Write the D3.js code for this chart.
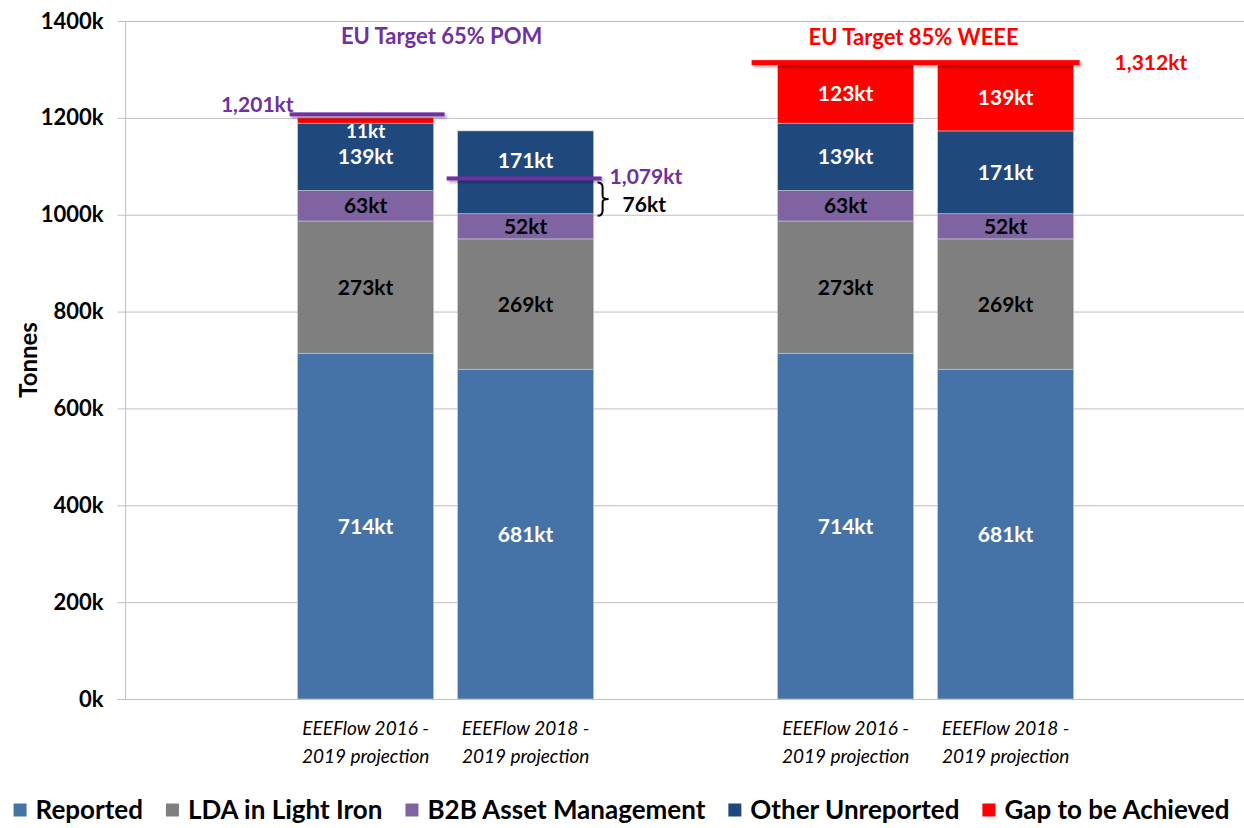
<!DOCTYPE html>
<html>
<head>
<meta charset="utf-8">
<script src="https://cdn.jsdelivr.net/npm/d3@7"></script>
<style>
  body { margin: 0; background: #fff; }
  svg { display: block; font-family: Lato, "Open Sans", sans-serif; }
</style>
</head>
<body>
<div id="chart"></div>
<script>
// Stacked bars: EU target vs collected tonnage

const groups = ["POM", "WEEE"];
const categories = ["EEEFlow 2016 - 2019 projection", "EEEFlow 2018 - 2019 projection"];
const seriesNames = ["Reported", "LDA in Light Iron", "B2B Asset Management", "Other Unreported", "Gap to be Achieved"];
const seriesColors = ["#4573a7", "#7f7f7f", "#8064a2", "#1f497d", "#ff0000"];

// one value per bar: POM/2016, POM/2018, WEEE/2016, WEEE/2018
const reported = [714, 681, 714, 681];
const lda = [273, 269, 273, 269];
const b2b = [63, 52, 63, 52];
const other = [139, 171, 139, 171];
const gap = [11, 0, 123, 139];

const yTicks = [0, 200, 400, 600, 800, 1000, 1200, 1400];
const pomTargets = [1201, 1079];
const weeeTarget = 1312;
const pomTitle = "EU Target 65% POM";
const weeeTitle = "EU Target 85% WEEE";

const width = 1244, height = 828;
const margin = {top: 21, bottom: 129, left: 125.6, right: -1.6};

const svg = d3.select("#chart").append("svg")
    .attr("width", width)
    .attr("height", height);

// drop shadow for the target lines (user space so a flat shape still gets a region)
svg.append("defs").append("filter").attr("id", "shadow")
    .attr("filterUnits", "userSpaceOnUse")
    .attr("x", 0).attr("y", 0).attr("width", width).attr("height", height)
    .append("feDropShadow")
    .attr("dx", 2).attr("dy", 2).attr("stdDeviation", 1.5)
    .attr("flood-color", "#000").attr("flood-opacity", 0.35);

// build rows for the stack
const bars = [];
groups.forEach((g, gi) => categories.forEach((c, ci) => {
    const i = gi * categories.length + ci;
    bars.push({
        group: g, cat: c, idx: i,
        "Reported": reported[i],
        "LDA in Light Iron": lda[i],
        "B2B Asset Management": b2b[i],
        "Other Unreported": other[i],
        "Gap to be Achieved": gap[i]
    });
}));

const stack = d3.stack().keys(seriesNames)(bars);

const x0 = d3.scaleBand(groups, [margin.left, width - margin.right])
    .paddingInner(1 / 3).paddingOuter(1 / 3);
const x1 = d3.scaleBand(categories, [0, x0.bandwidth()])
    .paddingInner(0.15).paddingOuter(0.075);
const y = d3.scaleLinear([0, 1400], [height - margin.bottom, margin.top]);
const color = d3.scaleOrdinal(seriesNames, seriesColors);

const barX = d => x0(d.group) + x1(d.cat);
const labelSize = 21;

// gridlines + left ticks
svg.append("g")
    .attr("transform", `translate(${margin.left},0)`)
    .call(d3.axisLeft(y).tickValues(yTicks)
        .tickSizeOuter(0)
        .tickFormat(d => d + "k"))
    .call(g => g.select(".domain").remove())
    .call(g => g.selectAll(".tick line")
        .attr("x1", -8).attr("x2", width - margin.left)
        .attr("stroke", "#bfbfbf"))
    .call(g => g.selectAll(".tick text")
        .attr("x", -22)
        .attr("font-size", 22).attr("font-weight", 700)
        .attr("font-family", "Lato, sans-serif")
        .attr("fill", "#000"));

svg.append("line")
    .attr("x1", margin.left).attr("x2", margin.left)
    .attr("y1", y(1400)).attr("y2", y(0))
    .attr("stroke", "#bfbfbf");

svg.append("text")
    .attr("transform", `translate(28,${(y(0) + y(1400)) / 2}) rotate(-90)`)
    .attr("text-anchor", "middle")
    .attr("dy", "0.36em")
    .attr("font-size", 24).attr("font-weight", 700)
    .text("Tonnes");

// segments
const layers = svg.append("g").selectAll("g")
    .data(stack)
    .join("g")
    .attr("fill", d => color(d.key));

layers.selectAll("rect")
    .data(d => d.filter(s => s[1] - s[0] > 0))
    .join("rect")
    .attr("x", d => barX(d.data))
    .attr("width", x1.bandwidth())
    .attr("y", d => y(d[1]))
    .attr("height", d => y(d[0]) - y(d[1]))
    .attr("stroke", "#c8c8c8")
    .attr("stroke-width", 0.6);

// value labels
const darkText = ["LDA in Light Iron", "B2B Asset Management"];
const crossedByTarget = d => d.data.group === "POM" &&
    pomTargets[d.data.idx] > d[0] && pomTargets[d.data.idx] < d[1];

stack.forEach(layer => {
    svg.append("g").selectAll("text")
        .data(layer.filter(s => s[1] - s[0] > 0))
        .join("text")
        .attr("x", d => barX(d.data) + x1.bandwidth() / 2)
        .attr("y", d => {
            const h = y(d[0]) - y(d[1]);
            // too thin to hold its label: hang it just under the segment
            if (h < 16) return y(d[1]) + 13;
            const mid = (y(d[0]) + y(d[1])) / 2;
            // keep clear of a target line running through the segment
            return crossedByTarget(d) ? mid - 12 : mid;
        })
        .attr("dy", "0.36em")
        .attr("text-anchor", "middle")
        .attr("font-size", d => (y(d[0]) - y(d[1]) < 16 ? 19 : labelSize))
        .attr("font-weight", 700)
        .attr("fill", darkText.includes(layer.key) ? "#000" : "#fff")
        .text(d => (d[1] - d[0]) + "kt");
});

// category labels
const catLabels = svg.append("g").selectAll("text")
    .data(bars)
    .join("text")
    .attr("y", y(0) + 36)
    .attr("text-anchor", "middle")
    .attr("font-size", 19).attr("font-style", "italic")
    .attr("fill", "#000");
catLabels.append("tspan").attr("x", d => barX(d) + x1.bandwidth() / 2)
    .text(d => d.cat.split(" - ")[0] + " -");
catLabels.append("tspan").attr("x", d => barX(d) + x1.bandwidth() / 2).attr("dy", 28)
    .text(d => d.cat.split(" - ")[1]);

// POM target lines
const purple = "#7030a0";
const pomBars = bars.filter(d => d.group === "POM");
svg.append("g").selectAll("rect")
    .data(pomBars)
    .join("rect")
    .attr("x", (d, i) => barX(d) - (i === 0 ? 8 : 11))
    .attr("width", x1.bandwidth() + 19)
    .attr("y", (d, i) => y(pomTargets[i]) - (i === 0 ? 5 : 0))
    .attr("height", 4)
    .attr("fill", purple)
    .attr("filter", "url(#shadow)");

svg.append("text")
    .attr("x", barX(pomBars[0]) - 4)
    .attr("y", y(pomTargets[0]) - 13)
    .attr("dy", "0.36em")
    .attr("text-anchor", "end")
    .attr("font-size", labelSize).attr("font-weight", 700).attr("fill", purple)
    .text(d3.format(",")(pomTargets[0]) + "kt");

const b2 = pomBars[1];
const bx = barX(b2) + x1.bandwidth();
svg.append("text")
    .attr("x", bx + 16)
    .attr("y", y(pomTargets[1]))
    .attr("dy", "0.36em")
    .attr("font-size", labelSize).attr("font-weight", 700).attr("fill", purple)
    .text(d3.format(",")(pomTargets[1]) + "kt");

// brace between target and the top of the B2B segment
const stackTop = b2["Reported"] + b2["LDA in Light Iron"] + b2["B2B Asset Management"];
const yTop = y(pomTargets[1]) + 6, yBot = y(stackTop) + 2, yMid = (yTop + yBot) / 2;
const bxl = bx + 4, bxr = bx + 15;
svg.append("path")
    .attr("d", `M${bxl},${yTop} Q${bxl + 5},${yTop} ${bxl + 5},${yTop + 5} L${bxl + 5},${yMid - 3}
                Q${bxl + 5},${yMid} ${bxr},${yMid}
                Q${bxl + 5},${yMid} ${bxl + 5},${yMid + 3} L${bxl + 5},${yBot - 5}
                Q${bxl + 5},${yBot} ${bxl},${yBot}`)
    .attr("fill", "none").attr("stroke", "#000").attr("stroke-width", 2);
svg.append("text")
    .attr("x", bx + 29)
    .attr("y", yMid + 5)
    .attr("dy", "0.36em")
    .attr("font-size", labelSize).attr("font-weight", 700).attr("fill", "#000")
    .text("76kt");

// WEEE target line
const weeeBars = bars.filter(d => d.group === "WEEE");
svg.append("rect")
    .attr("x", barX(weeeBars[0]) - 26)
    .attr("width", barX(weeeBars[1]) + x1.bandwidth() + 6 - (barX(weeeBars[0]) - 26))
    .attr("y", y(weeeTarget) - 3.5)
    .attr("height", 5)
    .attr("fill", "#ff0000")
    .attr("filter", "url(#shadow)");
svg.append("text")
    .attr("x", barX(weeeBars[1]) + x1.bandwidth() + 41)
    .attr("y", y(weeeTarget) - 1)
    .attr("dy", "0.36em")
    .attr("font-size", labelSize).attr("font-weight", 700).attr("fill", "#ff0000")
    .text(d3.format(",")(weeeTarget) + "kt");

// titles
svg.append("text")
    .attr("x", x0("POM") + x0.bandwidth() / 2 - 4)
    .attr("y", 36).attr("dy", "0.36em")
    .attr("text-anchor", "middle")
    .attr("font-size", 22).attr("font-weight", 700).attr("fill", purple)
    .text(pomTitle);
svg.append("text")
    .attr("x", x0("WEEE") + x0.bandwidth() / 2 - 12)
    .attr("y", 37).attr("dy", "0.36em")
    .attr("text-anchor", "middle")
    .attr("font-size", 22).attr("font-weight", 700).attr("fill", "#ff0000")
    .text(weeeTitle);

// legend
const legend = svg.append("g");
const items = legend.selectAll("g")
    .data(seriesNames)
    .join("g");
items.append("rect")
    .attr("width", 13).attr("height", 13)
    .attr("y", -6.5)
    .attr("fill", d => color(d));
items.append("text")
    .attr("x", 22)
    .attr("dy", "0.36em")
    .attr("font-size", 26).attr("font-weight", 700)
    .text(d => d);

let cursor = 0;
items.each(function () {
    const w = this.querySelector("text").getComputedTextLength() + 22;
    d3.select(this).attr("transform", `translate(${cursor},0)`);
    cursor += w + 23;
});
cursor -= 23;
legend.attr("transform", `translate(${(17 + 1226) / 2 - cursor / 2},810)`);
</script>
</body>
</html>
